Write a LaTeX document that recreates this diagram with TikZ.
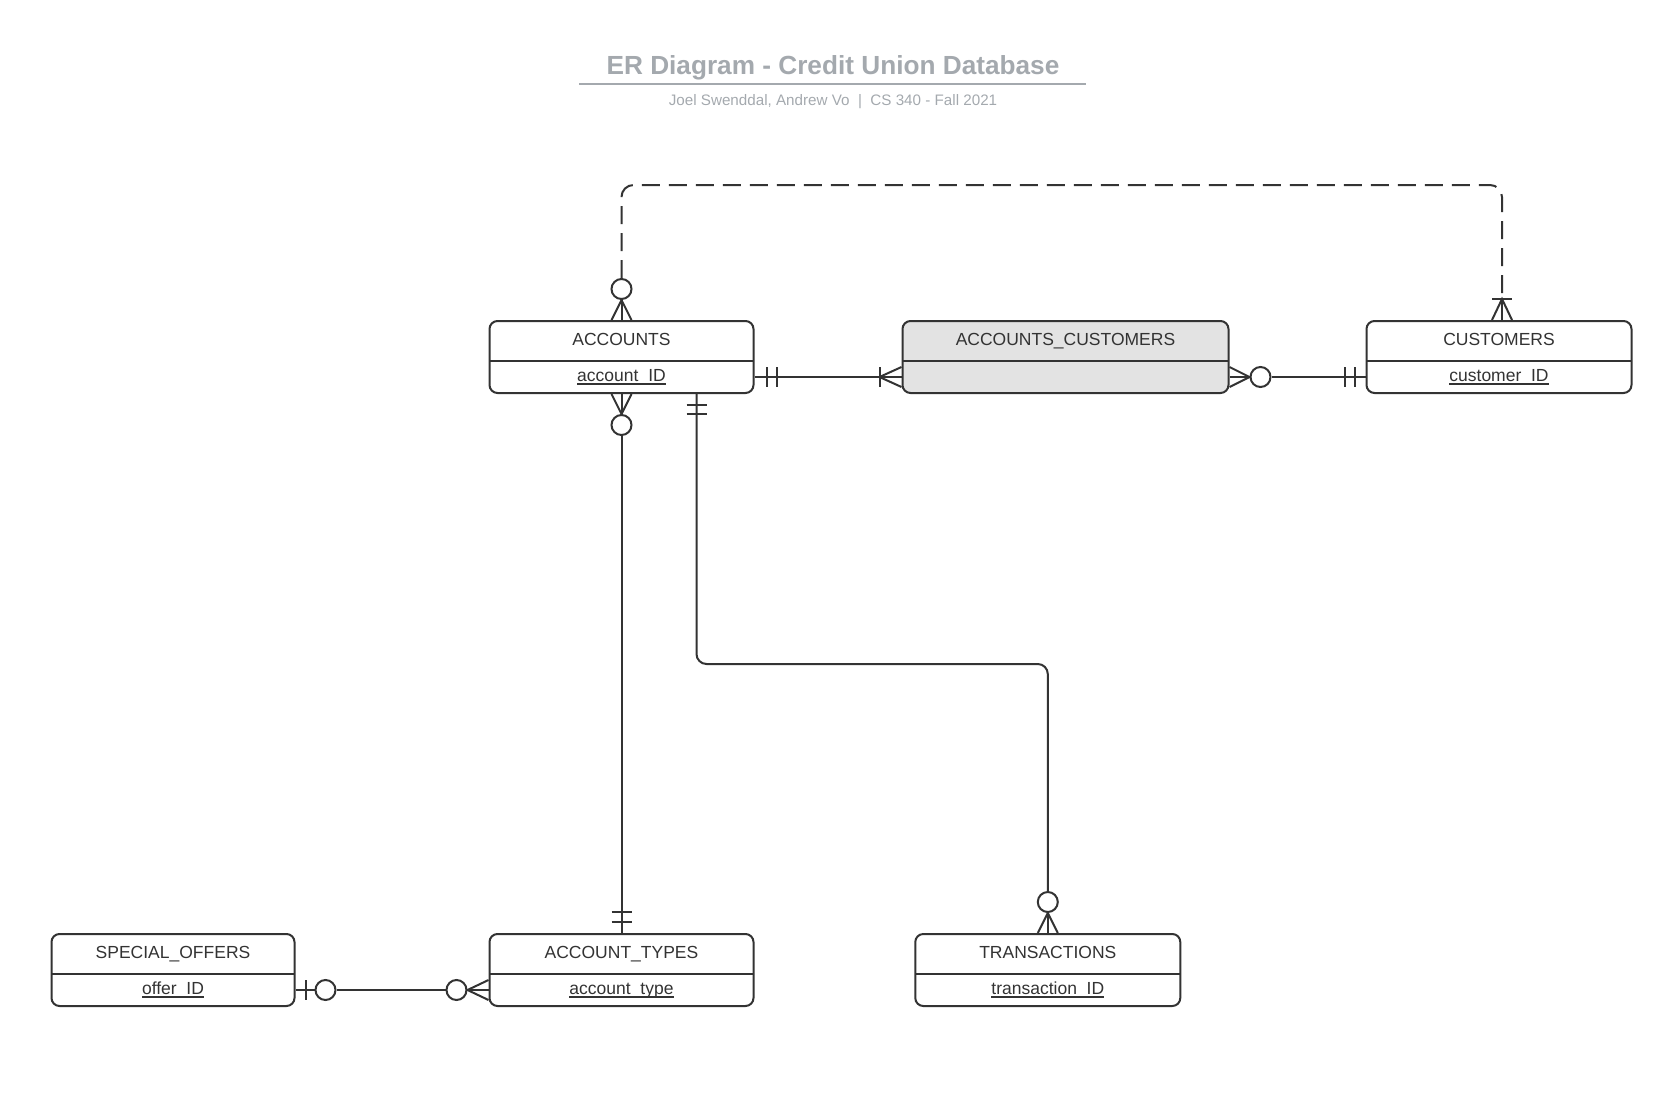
\documentclass[tikz,border=0pt]{standalone}
\usepackage{fontspec}
\setmainfont{Liberation Sans}
\usetikzlibrary{calc}
\definecolor{ink}{HTML}{333333}
\definecolor{titlegray}{HTML}{A4A9AE}
\definecolor{joinfill}{HTML}{E3E3E3}
\tikzset{
  table/.style={draw=ink, line width=2pt, rounded corners=8pt, minimum height=72pt, inner sep=0pt, fill=white},
  rel/.style={draw=ink, line width=2pt},
  ring/.style={circle, draw=ink, line width=2pt, minimum size=20pt, inner sep=0pt, fill=white},
  header/.style={text=ink, inner sep=0pt, anchor=base, font=\fontsize{17.5}{20}\selectfont},
}
\newcommand{\keyname}[1]{\setbox0\hbox{#1}\rlap{\rule[-3pt]{\wd0}{1.3pt}}\box0}
\newcommand{\entity}[7][]{ \node[table, #1, minimum width=#5pt] (#2) at (#3,#4) {};
  \draw[rel] ($(#2.north west)+(1,41)$) -- ($(#2.north east)+(-1,41)$);
  \node[header] (#2-title) at ($(#2.north)+(0,25)$) {#6};
  \node[header] (#2-key) at ($(#2.south)+(0,-12.5)$) {\keyname{#7}};}

\begin{document}
\begin{tikzpicture}[x=1pt,y=-1pt]
        \useasboundingbox (0,0) rectangle (1679,1100);

        % title
        \node[text=titlegray, anchor=base, font=\bfseries\fontsize{26.2}{30}\selectfont] (title) at (833,74.5) {ER Diagram - Credit Union Database};
        \draw[titlegray, line width=2pt] (579,83.5) -- (1086,83.5);
        \node[text=titlegray, font=\fontsize{15.2}{18}\selectfont] (sub) at (833,101.5) {Joel Swenddal, Andrew Vo~~|~~CS 340 - Fall 2021};

        % row1
        \entity{acc}{621.5}{357}{264}{ACCOUNTS}{account\_ID}
        \entity[fill=joinfill]{ac}{1065.5}{357}{326}{ACCOUNTS\_CUSTOMERS}{}
        \entity{cus}{1499}{357}{265}{CUSTOMERS}{customer\_ID}

        % row2
        \entity{so}{173}{970}{243}{SPECIAL\_OFFERS}{offer\_ID}
        \entity{at}{621.5}{970}{264}{ACCOUNT\_TYPES}{account\_type}
        \entity{tr}{1047.8}{970}{265}{TRANSACTIONS}{transaction\_ID}

        % accounts -- customers (dashed)
        \node[ring] (r1) at ($(acc.north)+(0,-31)$) {};
        \coordinate (c1) at ($(cus.north)+(3,-21)$);
        \coordinate (top) at (0,185);
        \draw[rel, dash pattern=on 18pt off 9pt, rounded corners=12pt] (r1.north) -- (r1.north |- top) -| (c1);
        \draw[rel] ($(acc.north)+(-10,0)$) -- (r1.south) -- ($(acc.north)+(10,0)$);
        \draw[rel] (r1.south) -- (acc.north);
        \draw[rel] ($(c1)+(-10,0)$) -- ++(20,0);
        \draw[rel] ($(cus.north)+(-7,0)$) -- (c1) -- ($(cus.north)+(13,0)$);
        \draw[rel] (c1) -- (c1 |- cus.north);

        % accounts -- accounts_customers
        \coordinate (c2) at ($(ac.west |- acc.south)+(-22,-17)$);
        \draw[rel] (acc.east |- c2) -- (ac.west |- c2);
        \draw[rel] ($(acc.east |- c2)+(12,-10)$) -- ++(0,20);
        \draw[rel] ($(acc.east |- c2)+(22,-10)$) -- ++(0,20);
        \draw[rel] ($(c2)+(22,-10)$) -- (c2) -- ($(c2)+(22,10)$);
        \draw[rel] ($(c2)+(0,-10)$) -- ++(0,20);

        % accounts_customers -- customers
        \node[ring] (r2) at ($(ac.east |- c2)+(31,0)$) {};
        \draw[rel] ($(ac.east |- c2)+(0,-10)$) -- (r2.west) -- ($(ac.east |- c2)+(0,10)$);
        \draw[rel] (ac.east |- c2) -- (r2.west);
        \draw[rel] (r2.east) -- (cus.west |- c2);
        \draw[rel] ($(cus.west |- c2)+(-21,-10)$) -- ++(0,20);
        \draw[rel] ($(cus.west |- c2)+(-11,-10)$) -- ++(0,20);

        % accounts -- account_types
        \node[ring] (r3) at ($(acc.south)+(0,31)$) {};
        \draw[rel] ($(acc.south)+(-10,0)$) -- (r3.north) -- ($(acc.south)+(10,0)$);
        \draw[rel] (acc.south) -- (r3.north);
        \draw[rel] (r3.south) -- (r3.south |- at.north);
        \draw[rel] ($(at.north)+(-10,-21)$) -- ++(20,0);
        \draw[rel] ($(at.north)+(-10,-11)$) -- ++(20,0);

        % accounts -- transactions
        \coordinate (c5) at ($(acc.south)+(75,0)$);
        \coordinate (mid) at (0,664);
        \node[ring] (r4) at ($(tr.north)+(0,-31)$) {};
        \draw[rel, rounded corners=10pt] (c5) -- (c5 |- mid) -| (r4.north);
        \draw[rel] ($(c5)+(-10,11)$) -- ++(20,0);
        \draw[rel] ($(c5)+(-10,20)$) -- ++(20,0);
        \draw[rel] ($(tr.north)+(-10,0)$) -- (r4.south) -- ($(tr.north)+(10,0)$);
        \draw[rel] (r4.south) -- (tr.north);

        % special_offers -- account_types
        \coordinate (c6) at ($(at.west |- at.south)+(0,-17)$);
        \node[ring] (r5) at ($(so.east |- c6)+(30,0)$) {};
        \node[ring] (r6) at ($(c6)+(-32,0)$) {};
        \draw[rel] (so.east |- c6) -- (r5.west);
        \draw[rel] ($(so.east |- c6)+(10,-10)$) -- ++(0,20);
        \draw[rel] (r5.east) -- (r6.west);
        \draw[rel] ($(c6)+(0,-10)$) -- (r6.east) -- ($(c6)+(0,10)$);
        \draw[rel] (r6.east) -- (c6);

    \end{tikzpicture}
\end{document}
